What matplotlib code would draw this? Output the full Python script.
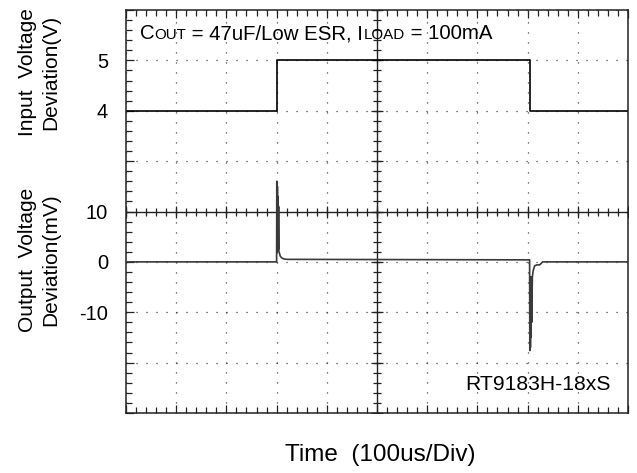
import numpy as np
import matplotlib as mat
mat.use("Agg")
from matplotlib import pyplot as plt
from matplotlib import transforms as mtransforms
from matplotlib.ticker import MultipleLocator, FuncFormatter

plt.rcParams['font.family'] = ['Liberation Sans', 'DejaVu Sans']
plt.rcParams['lines.scale_dashes'] = False
plt.rcParams['axes.unicode_minus'] = False

# scope time base, us (100us/div, 10 div)
t_in = [0, 300, 300, 804, 804, 1000]
v_in = [4, 4, 5, 5, 4, 4]  # V

t_out = [0, 300, 300.4, 301.0, 301.6, 302.2, 302.8, 303.4, 304.0, 304.6, 305.5, 307, 310, 314, 320,
         804, 804.4, 805.0, 805.6, 806.2, 806.8, 807.4, 808.2, 809.5, 811, 814, 818, 824, 830, 1000]
v_out = [0, 0, 16, 2, 15, 3, 13, 2.5, 11, 2, 1.8, 1.2, 0.8, 0.6, 0.5,
         0.4, -17.6, -3, -17, -4, -15, -3, -12, -3, -1.8, -0.8, -0.6, -0.6, 0, 0]  # mV

in_labels = [4, 5]
out_labels = [-10, 0, 10]

fig = plt.figure(figsize=(6.37, 4.73), dpi=100)
ax = fig.add_axes([126/637, 1 - 413/473, 502/637, 403/473])
ax.set_xlim(0, 1000)
ax.set_ylim(-2, 6)

ax.xaxis.set_major_locator(MultipleLocator(100))
ax.xaxis.set_minor_locator(MultipleLocator(20))
ax.yaxis.set_major_locator(MultipleLocator(1))
ax.yaxis.set_minor_locator(MultipleLocator(0.2))
ax.tick_params(which='both', direction='in', top=True, right=True, color='#222222', width=0.9)
ax.tick_params(which='major', length=6)
ax.tick_params(which='minor', length=4)
ax.tick_params(axis='x', labelbottom=False)
ax.tick_params(axis='y', labelsize=14.5, pad=13)
ax.yaxis.set_major_formatter(FuncFormatter(lambda v, p: f'{v:g}' if v in in_labels else ''))
for s in ax.spines.values():
    s.set_linewidth(1.1)
    s.set_color('#222222')

ax.grid(True, which='major', color='#333333', lw=0.9, ls=(0, (0.8, 6.4)))

# center cross with tick marks
ax.axhline(2, color='#222222', lw=1.0)
ax.axvline(500, color='#222222', lw=1.0)
xs = np.arange(0, 1001, 20)
ys = np.arange(-2, 6.01, 0.2)
ax.plot(xs, np.full(xs.size, 2.0), ls='none', marker='|', ms=6, mew=0.9, color='#222222')
ax.plot(np.arange(0, 1001, 100), np.full(11, 2.0), ls='none', marker='|', ms=9, mew=0.9, color='#222222')
ax.plot(np.full(ys.size, 500.0), ys, ls='none', marker='_', ms=6, mew=0.9, color='#222222')
ax.plot(np.full(9, 500.0), np.arange(-2, 7, 1), ls='none', marker='_', ms=9, mew=0.9, color='#222222')

ax.plot(t_in, v_in, color='black', lw=1.2)

ax2 = ax.twinx()
ax2.set_ylim(-30, 50)
ax2.yaxis.set_ticks_position('left')
ax2.set_yticks(out_labels)
ax2.tick_params(axis='y', length=0, labelsize=14.5, pad=13)
for s in ax2.spines.values():
    s.set_visible(False)
ax2.plot(t_out, v_out, color='#3a3a3a', lw=1.2)

# annotation with small-caps subscripts
renderer = fig.canvas.get_renderer()
parts = [('C', 14.7), ('OUT', 10.9), (' = 47uF/Low ESR, I', 14.7), ('LOAD', 10.9), (' = 100mA', 14.7)]
dx = 0
for txt, size in parts:
    tr = mtransforms.offset_copy(ax.transAxes, fig=fig, x=dx, y=0, units='dots')
    t = ax.text((140 - 126) / 502, (413 - 39) / 403, txt, fontsize=size, transform=tr,
                ha='left', va='baseline')
    dx += t.get_window_extent(renderer).width

ax.text((611 - 126) / 502, (413 - 390) / 403, 'RT9183H-18xS', fontsize=15.2,
        ha='right', va='baseline', transform=ax.transAxes)

fig.text(39/637, 1 - 72/473, 'Input  Voltage\nDeviation(V)', rotation=90, fontsize=15,
         ha='center', va='center', multialignment='center', linespacing=1.3)
fig.text(39/637, 1 - 260/473, 'Output  Voltage\nDeviation(mV)', rotation=90, fontsize=15,
         ha='center', va='center', multialignment='center', linespacing=1.3)
fig.text(380/637, 1 - 455/473, 'Time  (100us/Div)', fontsize=17.5, ha='center', va='center')

plt.savefig('out.png', dpi=100)
